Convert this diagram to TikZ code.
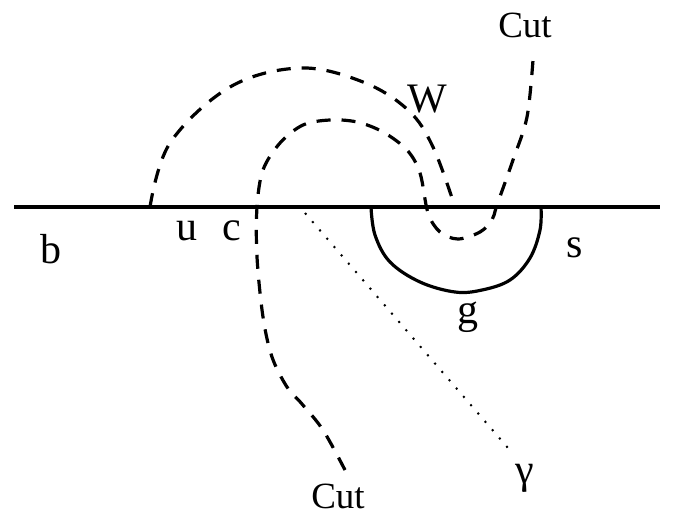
\documentclass[tikz,border=0pt]{standalone}
\usepackage{fontspec}
\setmainfont{Liberation Serif}
\usepackage{tikz}
\usetikzlibrary{calc}
\tikzset{
  axisline/.style={line width=4pt, draw=black},
  cutline/.style={line width=3.2pt, dash pattern=on 14pt off 11pt, draw=black},
  contour/.style={line width=3.2pt, draw=black},
  rayline/.style={line width=2pt, dash pattern=on 2pt off 9pt, draw=black},
  letter/.style={font=\fontsize{42}{48}\selectfont, anchor=base, inner sep=0pt},
  cutlabel/.style={font=\fontsize{37}{42}\selectfont, anchor=base, inner sep=0pt},
}
\begin{document}
\begin{tikzpicture}[x=1pt, y=-1pt]
  \useasboundingbox (0,0) rectangle (679,517);

  % --- real axis ---
  \draw[axisline] (14,207) -- (660,207);

  % --- outer dashed arc ---
  \draw[cutline] plot[smooth, tension=0.6] coordinates {
    (150,207) (170,143) (230,87) (300,68) (363,82) (408,110) (433,147) (455,207)};

  % --- cut from below, round the loop, out to the top ---
  \draw[cutline] plot[smooth, tension=0.55] coordinates {
    (345,470) (323,430) (302,404) (287,387) (272,357) (263,317) (257,257)
    (257,207) (263,170) (280,143) (303,125) (330,120) (357,122) (383,132)
    (407,150) (420,173) (428,213) (440,232) (458,239) (480,232) (492,220)
    (497,205) (513,160) (527,117) (533,60)};

  % --- solid contour under the axis ---
  \draw[contour] plot[smooth, tension=0.6] coordinates {
    (371,207) (375,235) (390,262) (420,282) (455,292) (482,290)
    (510,280) (530,258) (540,230) (541,207)};

  % --- ray ---
  \draw[rayline] (305,213) -- (508,448);

  % --- labels ---
  \node[letter] (lb) at (51,263) {b};
  \node[letter] (lu) at (187,240) {u};
  \node[letter] (lc) at (232,240) {c};
  \node[letter] (lw) at (427,112) {W};
  \node[letter] (ls) at (575,257) {s};
  \node[letter] (lg) at (468,323) {g};
  \node[letter] (lgam) at (525,483) {γ};
  \node[cutlabel] (cuttop) at (525,37) {Cut};
  \node[cutlabel] (cutbot) at (338,508) {Cut};
\end{tikzpicture}
\end{document}
